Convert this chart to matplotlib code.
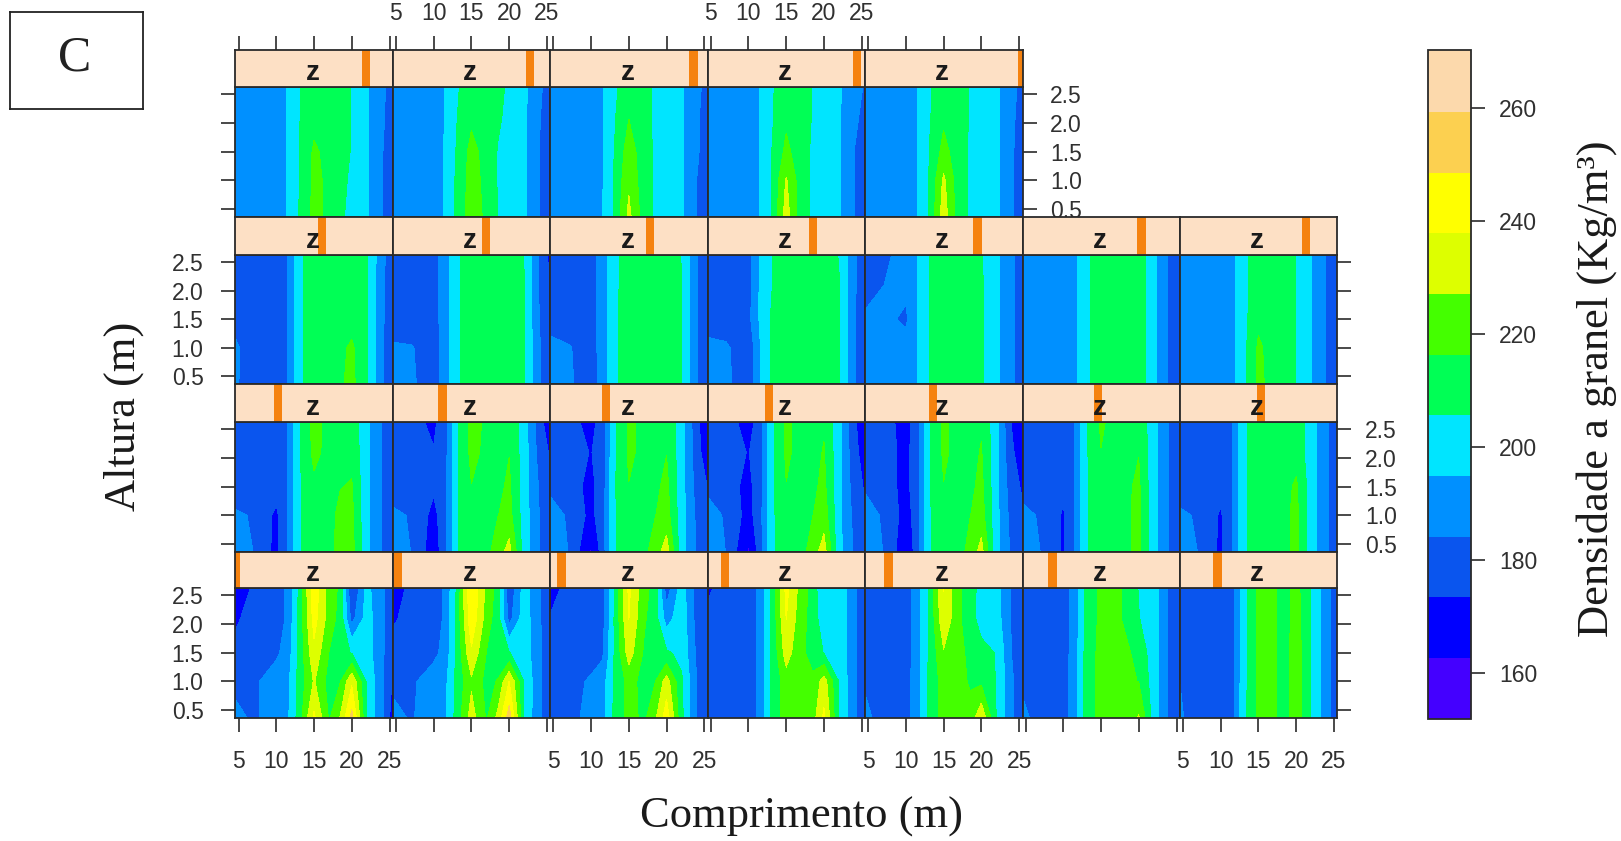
import numpy as np
import matplotlib
matplotlib.use("Agg")
import matplotlib.pyplot as plt
from matplotlib.colors import ListedColormap, BoundaryNorm

W, H = 1621, 841
plt.rcParams['font.family'] = ['Liberation Sans', 'DejaVu Sans']

# grid the densities were read on (m)
lengths = [4.6, 7, 10, 11.5, 13, 15, 17, 18.5, 20, 22, 24, 25.45]
heights = [2.63, 2.1, 1.5, 1.0, 0.36]

levels = [152, 162.7, 173.4, 184.1, 194.9, 205.6, 216.3, 227, 237.8, 248.5, 259.2, 270.2]
colors = ['#4400ff', '#0000ff', '#0a55ee', '#0090ff', '#00e5ff', '#00ff55',
          '#44ff00', '#ddff00', '#ffff00', '#fcd050', '#fcd9ac']

# top row, five panels
t1 = [[187,188,189,195.5,205,212,212,210,205,196,186,180],
      [187,188,189,195.5,205,213,212,210,205,196,186,178],
      [187,188,189,195.5,205,218,213,209,205,196,185,175],
      [187,188,189,195.5,205,219,214,208,204,196,185,174],
      [187,188,189,195.5,206,219,214,207,203,196,185,174]]
t2 = [[187,188,189,195,204,212,211,208,204,197,186,179],
      [187,188,189,195,205,214,211,207,203,197,185,176],
      [187,188,189,196,206,220,212,205,202,197,184,175],
      [187,188,189,196,207,221,213,205,202,197,184,175],
      [187,188,189,196,208,222,214,205,202,197,184,175]]
t3 = [[187,188,189,194,203,212,209,204,201,196,187,180],
      [187,188,189,194,204,216,209,204,201,196,186,178],
      [187,188,189,194,205,222,210,204,201,196,186,177],
      [187,188,189,194,206,225,210,204,201,196,184,176],
      [187,188,189,195,206,230,211,204,201,196,184,176]]
t4 = [[187,188,189,195,204,212,210,205,201,196,188,183],
      [187,188,189,195,204,214,210,205,201,196,187,180],
      [187,188,189,195,205,219,210,204,201,196,184,176],
      [187,188,189,195,205,228,210,204,201,196,184,176],
      [187,188,189,195,205,232,210,204,201,196,184,176]]
t5 = [[187,188,189,195,204,212,210,205,201,197,188,180],
      [187,188,189,195,204,214,210,205,201,197,187,178],
      [187,188,189,195,205,220,210,204,201,197,186,177],
      [187,188,189,195,205,229,210,204,201,197,186,177],
      [187,188,189,195,205,233,210,204,201,197,186,177]]

# second row
r2_1 = [[177,177,179,184,203,211,212,212,212,206,188,176],
        [177,177,179,184,203,211,212,212,212,207,186,176],
        [180,176,179,184,203,211,212,212,212,207,186,176],
        [186,177,179,184,203,212,212,214,218,207,186,175],
        [186,176,179,184,203,212,213,215,219,207,186,175]]
r2_2 = [[176,176,180,189,203,212,212,212,212,205,183,170],
        [176,176,180,189,203,212,212,212,212,206,183,173],
        [176,176,180,189,203,212,212,212,212,206,184,175],
        [186,185,178,189,203,212,212,212,212,206,185,176],
        [188,186,178,189,203,212,212,212,212,206,185,176]]
r2_3 = [[177,177,180,189,202,212,212,212,212,205,185,176],
        [177,177,180,189,202,212,212,212,212,206,185,176],
        [180,177,180,189,203,212,212,212,212,206,185,176],
        [187,185,179,189,203,212,212,212,212,206,185,176],
        [188,186,178,188,203,212,212,212,212,206,185,176]]
r2_4 = [[178,176,180,196,205,212,212,212,212,205,186,176],
        [178,176,180,196,205,212,212,212,212,206,186,176],
        [179,177,181,196,206,212,212,212,212,206,185,176],
        [187,186,176,194,206,212,212,212,212,206,185,176],
        [188,187,176,194,206,212,212,212,212,206,185,176]]
r2_5 = [[178,183,186,195,205,212,212,212,206,197,187,177],
        [179,184,187,195,205,212,212,212,207,197,187,177],
        [186,187,182,195,205,212,212,212,207,197,187,177],
        [187,188,189,195,205,212,212,212,207,197,187,177],
        [187,188,189,195,205,212,212,212,207,197,187,177]]
r2_6 = [[184,187,189,193,203,212,212,212,212,198,183,176],
        [186,187,189,193,203,212,212,212,212,198,183,176],
        [187,188,189,193,203,212,212,212,212,198,183,176],
        [187,188,189,193,203,212,212,212,212,198,183,176],
        [187,188,189,193,203,212,212,212,212,198,183,176]]
r2_7 = [[186,187,188,192,202,212,212,212,205,195,184,177],
        [186,187,188,192,202,212,212,212,205,195,184,177],
        [186,187,188,192,202,214,212,212,205,195,184,177],
        [186,187,188,192,202,218,212,212,205,195,184,177],
        [186,187,188,192,202,219,212,212,205,195,184,177]]

# third row
r3_1 = [[177,177,178,184,204,220,213,212,212,197,184,174],
        [177,177,178,184,204,219,213,212,214,197,184,174],
        [177,177,178,184,204,214,213,216,217,197,184,175],
        [186,183,171,184,204,212,213,219,219,197,184,176],
        [188,184,170,184,204,212,213,220,220,197,184,176]]
r3_2 = [[177,177,171,180,203,219,215,213,214,200,178,165],
        [177,177,174,180,203,219,214,213,216,200,180,172],
        [177,178,175,180,204,216,213,214,218,200,183,175],
        [187,183,170,180,204,213,213,216,220,200,184,175],
        [188,184,167,180,204,213,213,222,231,200,184,175]]
r3_3 = [[177,177,170,178,203,218,214,213,214,199,177,162],
        [177,177,173,178,203,218,214,213,216,199,178,166],
        [182,177,171,178,204,216,213,214,219,199,180,173],
        [188,183,170,180,204,213,213,216,221,199,182,175],
        [188,184,161,178,204,213,213,222,232,199,183,175]]
r3_4 = [[177,177,170,177,202,218,213,213,215,198,176,163],
        [177,177,173,178,202,218,213,213,217,198,177,168],
        [182,177,171,178,203,216,212,214,219,198,179,172],
        [188,183,169,180,203,213,212,216,222,198,181,175],
        [188,184,161,178,203,213,212,222,232,198,183,175]]
r3_5 = [[177,177,170,178,204,218,213,213,215,198,173,166],
        [178,177,171,178,204,218,213,213,217,198,175,168],
        [183,177,171,178,204,216,212,214,219,198,178,172],
        [188,183,169,178,204,213,212,216,221,198,180,175],
        [188,184,165,178,204,213,212,220,231,198,182,175]]
r3_6 = [[177,177,177,184,204,218,212,213,214,198,184,176],
        [177,177,177,184,204,216,212,213,216,198,184,176],
        [180,177,176,184,204,213,212,215,218,198,184,176],
        [187,183,172,184,204,212,212,215,219,198,184,176],
        [188,184,172,184,204,212,212,215,219,198,184,176]]
r3_7 = [[177,177,177,183,203,213,212,212,212,200,186,176],
        [177,177,177,183,203,213,212,212,212,200,186,176],
        [179,177,177,183,203,212,212,213,218,200,186,176],
        [186,183,172,183,203,212,212,214,219,200,186,176],
        [187,184,171,183,203,212,212,214,219,200,186,176]]

# bottom row
b1 = [[161,176,178,186,207,245,222,214,172,198,186,176],
      [172,177,178,186,208,242,222,212,180,200,186,176],
      [176,178,182,189,208,235,216,209,205,200,186,176],
      [180,182,190,192,209,228,212,216,236,204,186,172],
      [188,182,190,193,210,240,215,228,252,205,186,168]]
b2 = [[168,176,178,186,206,248,224,212,175,200,185,178],
      [172,177,178,186,207,246,222,210,180,201,185,178],
      [177,178,181,188,207,236,216,209,206,201,186,178],
      [181,182,190,192,208,225,213,217,238,205,186,177],
      [188,183,190,193,209,232,215,230,254,204,186,174]]
b3 = [[170,176,178,180,204,240,220,212,178,200,180,177],
      [174,177,178,180,205,238,218,210,190,202,180,177],
      [177,178,178,182,205,232,215,210,207,203,182,177],
      [178,179,186,190,206,220,213,216,232,207,184,177],
      [178,180,188,191,207,220,214,225,244,208,184,172]]
b4 = [[172,177,179,186,206,241,222,212,195,203,186,178],
      [175,177,179,186,206,238,220,212,198,204,186,178],
      [177,178,179,186,206,232,218,213,205,204,186,178],
      [178,178,179,186,206,222,218,218,232,205,186,178],
      [182,179,179,186,206,222,218,222,240,205,186,178]]
b5 = [[176,177,178,190,205,238,218,212,200,199,183,176],
      [176,177,178,190,205,236,218,210,201,200,183,176],
      [176,177,178,190,206,226,220,213,209,205,184,176],
      [182,178,180,190,207,221,220,215,214,205,186,176],
      [188,178,180,190,207,221,220,220,236,205,186,176]]
b6 = [[178,178,179,189,208,219,219,213,205,200,182,176],
      [178,178,179,189,208,219,219,213,206,200,182,176],
      [178,178,179,189,209,220,219,218,212,200,182,176],
      [181,178,179,190,209,220,219,218,216,200,182,176],
      [188,178,179,191,209,221,219,220,228,200,182,176]]
b7 = [[177,177,177,180,201,218,218,212,220,205,188,177],
      [177,177,177,180,201,218,218,212,221,205,188,177],
      [177,177,177,180,201,219,218,212,222,205,188,177],
      [184,177,177,180,201,219,218,212,222,205,188,177],
      [186,177,177,180,202,219,218,212,222,205,188,177]]

rows = [[t1, t2, t3, t4, t5],
        [r2_1, r2_2, r2_3, r2_4, r2_5, r2_6, r2_7],
        [r3_1, r3_2, r3_3, r3_4, r3_5, r3_6, r3_7],
        [b1, b2, b3, b4, b5, b6, b7]]

# position of the orange marker in each strip, 0 to 1
z_rows = [[.83, .87, .91, .95, 1.0],
          [.55, .59, .635, .67, .715, .755, .80],
          [.27, .315, .355, .39, .43, .48, .515],
          [0, .03, .07, .11, .15, .19, .24]]

x_ticks = [5, 10, 15, 20, 25]
y_ticks = [0.5, 1.0, 1.5, 2.0, 2.5]
y_labels = ['0.5', '1.0', '1.5', '2.0', '2.5']
cbar_ticks = [160, 180, 200, 220, 240, 260]

# layout in pixels
panel_left = 235.5
panel_w = 157.4
strip_tops = [50, 217, 384, 552]
strip_bots = [87, 255, 422, 588]
panel_bots = [217, 384, 552, 718]
line = '#2a2a2a'
tick_size = 16.5
x0_m, x1_m = 4.6, 25.45

fig = plt.figure(figsize=(W / 100, H / 100), dpi=100)


def px_axes(x0, y0, x1, y1):
    return fig.add_axes([x0 / W, 1 - y1 / H, (x1 - x0) / W, (y1 - y0) / H])


cmap = ListedColormap(colors)
norm = BoundaryNorm(levels, cmap.N)

for r, row in enumerate(rows):
    for c, grid in enumerate(row):
        x0 = panel_left + c * panel_w
        ax = px_axes(x0, strip_bots[r], x0 + panel_w, panel_bots[r])
        cs = ax.contourf(lengths, heights, np.array(grid), levels=levels, cmap=cmap, norm=norm)
        ax.set_xlim(x0_m, x1_m)
        ax.set_ylim(0.36, 2.63)
        ax.set_xticks([])
        ax.set_yticks([])
        for s in ax.spines.values():
            s.set_linewidth(1.3)
            s.set_color(line)

        # strip with the orange z marker
        st = px_axes(x0, strip_tops[r], x0 + panel_w, strip_bots[r])
        st.set_facecolor('#fde0c5')
        st.set_xlim(x0_m, x1_m)
        st.set_ylim(0, 1)
        st.set_xticks([])
        st.set_yticks([])
        z_at = x0_m + z_rows[r][c] * (x1_m - x0_m)
        st.axvspan(z_at - 0.56, z_at + 0.56, color='#f5820f', lw=0)
        st.text(0.49, 0.38, 'z', ha='center', va='center', fontsize=20, color='#1a1a1a',
                fontweight='bold', transform=st.transAxes)
        for s in st.spines.values():
            s.set_linewidth(1.3)
            s.set_color(line)

        # outer ticks and labels, alternating like lattice does
        if r == 3:
            ax.set_xticks(x_ticks)
            ax.tick_params(axis='x', bottom=True, length=10, width=1.2, color=line, pad=13,
                           labelsize=tick_size, labelcolor='#303030',
                           labelbottom=(c % 2 == 0))
        if r == 0:
            st.set_xticks(x_ticks)
            st.tick_params(axis='x', top=True, bottom=False, length=10, width=1.2, color=line,
                           pad=8, labelsize=tick_size, labelcolor='#303030', labelbottom=False,
                           labeltop=(c % 2 == 1))
        if c == 0:
            ax.set_yticks(y_ticks)
            ax.set_yticklabels(y_labels)
            ax.tick_params(axis='y', left=True, length=10, width=1.2, color=line, pad=13,
                           labelsize=tick_size, labelcolor='#303030', labelleft=(r % 2 == 1))
        if c == len(row) - 1:
            ax.set_yticks(y_ticks)
            ax.set_yticklabels(y_labels)
            ax.tick_params(axis='y', right=True, length=10, width=1.2, color=line, pad=10,
                           labelsize=tick_size, labelcolor='#303030', labelright=(r % 2 == 0),
                           left=False, labelleft=False)

# colour key
cax = px_axes(1428, 50, 1471, 718.5)
cb = fig.colorbar(plt.cm.ScalarMappable(norm=norm, cmap=cmap), cax=cax, ticks=cbar_ticks,
                  spacing='proportional')
cb.ax.tick_params(length=10, width=1.2, color=line, pad=10, labelsize=tick_size,
                  labelcolor='#303030')
cb.outline.set_linewidth(1.3)
cb.outline.set_edgecolor(line)
cb.ax.minorticks_off()

serif = ['Liberation Serif', 'DejaVu Serif']
fig.text(801 / W, 1 - 817 / H, 'Comprimento (m)', family=serif, fontsize=32, ha='center',
         va='center', color='#1a1a1a')
fig.text(124 / W, 1 - 416 / H, 'Altura (m)', family=serif, fontsize=32, rotation=90,
         ha='center', va='center', color='#1a1a1a')
fig.text(1597 / W, 1 - 389 / H, 'Densidade a granel (Kg/m³)', family=serif, fontsize=32,
         rotation=90, ha='center', va='center', color='#1a1a1a')

# panel letter in its box
box = px_axes(9.5, 12, 143, 108.5)
box.set_xticks([])
box.set_yticks([])
for s in box.spines.values():
    s.set_linewidth(1.3)
    s.set_color('#222222')
box.text(0.49, 0.52, 'C', family=serif, fontsize=36, ha='center', va='center',
         transform=box.transAxes, color='#222222')

fig.savefig('out.png', dpi=100)
